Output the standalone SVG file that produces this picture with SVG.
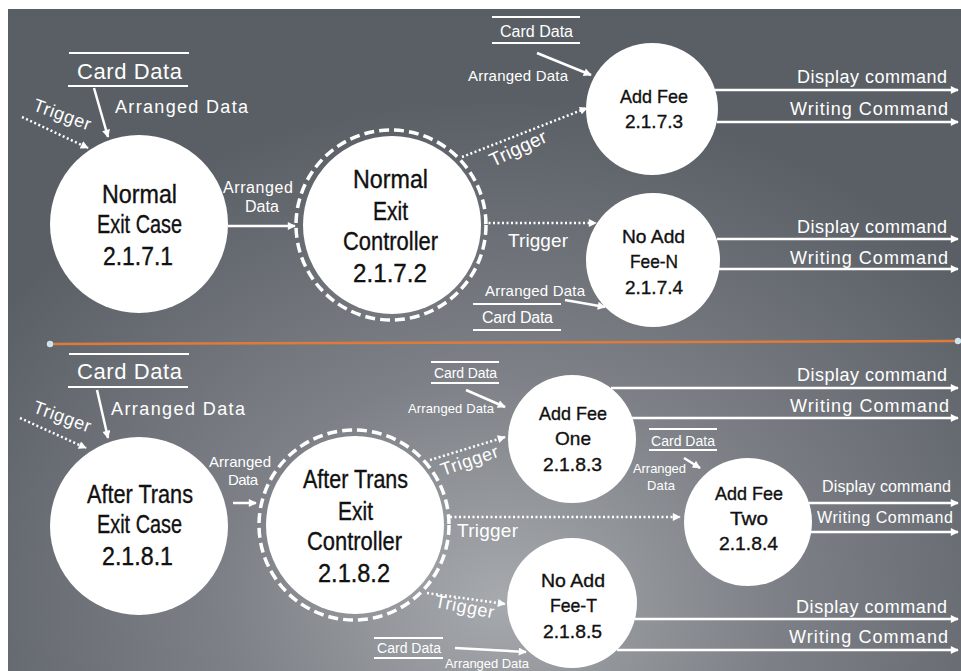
<svg xmlns="http://www.w3.org/2000/svg" width="961" height="671" viewBox="0 0 961 671">
<defs>
<radialGradient id="bg" cx="500" cy="600" r="560" gradientUnits="userSpaceOnUse" gradientTransform="translate(500 600) scale(1.1 0.9) translate(-500 -600)">
<stop offset="0" stop-color="#a6a9ad"/>
<stop offset="0.45" stop-color="#7d8187"/>
<stop offset="1" stop-color="#5a5f65"/>
</radialGradient>
<marker id="ah" viewBox="0 0 10 10" refX="9" refY="5" markerWidth="9" markerHeight="8" markerUnits="userSpaceOnUse" orient="auto">
<path d="M0 0 L10 5 L0 10 Z" fill="#fff"/>
</marker>
<style>
.nc{fill:#fff}
.ring{fill:none;stroke:#fff;stroke-width:3.5;stroke-dasharray:10 5}
.nt{font-family:'Liberation Sans',Arial,sans-serif;fill:#111;stroke:#111;stroke-width:0.35}
.big{font-size:25px}
.sm{font-size:19px}
.lb{font-family:'Liberation Sans',Arial,sans-serif;fill:#fff}
.flow{stroke:#fff;stroke-width:2.5;fill:none;marker-end:url(#ah)}
.dot{stroke:#fff;stroke-width:2.5;fill:none;stroke-dasharray:2 2.5;marker-end:url(#ah)}
.st{stroke:#fff;stroke-width:2.2}
</style>
</defs>
<rect x="0" y="0" width="961" height="671" fill="#fff"/>
<rect x="8" y="9" width="953" height="662" fill="url(#bg)"/>
<g id="divider">
<line x1="50" y1="344" x2="958" y2="341" stroke="#e07a3a" stroke-width="2.5"/>
<circle cx="50" cy="344" r="3.2" fill="#cfe4ee"/>
<circle cx="958" cy="341" r="3.2" fill="#cfe4ee"/>
</g>
<g id="connectors">
<line class="flow" x1="94" y1="88" x2="108" y2="137"/>
<line class="dot" x1="22" y1="117" x2="88" y2="148"/>
<line class="flow" x1="228" y1="226" x2="295" y2="226"/>
<line class="dot" x1="462" y1="157" x2="587" y2="108"/>
<line class="dot" x1="484" y1="223" x2="596" y2="223"/>
<line class="flow" x1="537" y1="53" x2="591" y2="75"/>
<line class="flow" x1="565" y1="300" x2="605" y2="307"/>
<line class="flow" x1="715" y1="90" x2="958" y2="90"/>
<line class="flow" x1="717" y1="122" x2="958" y2="122"/>
<line class="flow" x1="717" y1="239" x2="958" y2="239"/>
<line class="flow" x1="719" y1="269" x2="958" y2="269"/>
<line class="flow" x1="97" y1="390" x2="108" y2="438"/>
<line class="dot" x1="20" y1="418" x2="86" y2="448"/>
<line class="flow" x1="233" y1="503" x2="256" y2="503"/>
<line class="dot" x1="430" y1="460" x2="505" y2="437"/>
<line class="dot" x1="450" y1="517" x2="680" y2="517"/>
<line class="dot" x1="427" y1="593" x2="505" y2="604"/>
<line class="flow" x1="466" y1="390" x2="505" y2="407"/>
<line class="flow" x1="684" y1="458" x2="700" y2="468"/>
<line class="flow" x1="455" y1="648" x2="526" y2="652"/>
<line class="flow" x1="611" y1="388" x2="958" y2="388"/>
<line class="flow" x1="632" y1="418" x2="958" y2="418"/>
<line class="flow" x1="809" y1="503" x2="958" y2="503"/>
<line class="flow" x1="811" y1="532" x2="958" y2="532"/>
<line class="flow" x1="635" y1="619" x2="958" y2="619"/>
<line class="flow" x1="617" y1="650" x2="958" y2="650"/>
</g>
<g id="store-card-1">
<line class="st" x1="69" y1="53" x2="189" y2="53"/>
<line class="st" x1="68" y1="86" x2="188" y2="86"/>
<text class="lb" x="77" y="79" font-size="22" textLength="105" lengthAdjust="spacing">Card Data</text>
</g>
<g id="store-card-2">
<line class="st" x1="492" y1="17" x2="580" y2="17"/>
<line class="st" x1="492" y1="43" x2="580" y2="43"/>
<text class="lb" x="500" y="37" font-size="16" textLength="73" lengthAdjust="spacing">Card Data</text>
</g>
<g id="store-card-3">
<line class="st" x1="473" y1="304" x2="561" y2="304"/>
<line class="st" x1="473" y1="330" x2="561" y2="330"/>
<text class="lb" x="482" y="323" font-size="16" textLength="71" lengthAdjust="spacing">Card Data</text>
</g>
<g id="store-card-4">
<line class="st" x1="69" y1="354" x2="189" y2="354"/>
<line class="st" x1="68" y1="387" x2="188" y2="387"/>
<text class="lb" x="77" y="379" font-size="22" textLength="105" lengthAdjust="spacing">Card Data</text>
</g>
<g id="store-card-5">
<line class="st" x1="431" y1="362" x2="499" y2="362"/>
<line class="st" x1="431" y1="383" x2="499" y2="383"/>
<text class="lb" x="434" y="378" font-size="14" textLength="63" lengthAdjust="spacing">Card Data</text>
</g>
<g id="store-card-6">
<line class="st" x1="649" y1="429" x2="717" y2="429"/>
<line class="st" x1="649" y1="450" x2="717" y2="450"/>
<text class="lb" x="651" y="446" font-size="14" textLength="64" lengthAdjust="spacing">Card Data</text>
</g>
<g id="store-card-7">
<line class="st" x1="374" y1="638" x2="443" y2="638"/>
<line class="st" x1="374" y1="658" x2="443" y2="658"/>
<text class="lb" x="377" y="653" font-size="14" textLength="64" lengthAdjust="spacing">Card Data</text>
</g>
<g id="labels">
<text class="lb" x="115" y="113" font-size="18" textLength="133" lengthAdjust="spacing">Arranged Data</text>
<text class="lb" font-size="18" transform="translate(32 110) rotate(20)" textLength="60" lengthAdjust="spacing">Trigger</text>
<text class="lb" x="223" y="193" font-size="16" textLength="70" lengthAdjust="spacing">Arranged</text>
<text class="lb" x="245" y="212" font-size="16" textLength="34" lengthAdjust="spacing">Data</text>
<text class="lb" x="468" y="81" font-size="15" textLength="100" lengthAdjust="spacing">Arranged Data</text>
<text class="lb" font-size="19" transform="translate(493 167) rotate(-25)" textLength="61" lengthAdjust="spacing">Trigger</text>
<text class="lb" x="508" y="247" font-size="19" textLength="60" lengthAdjust="spacing">Trigger</text>
<text class="lb" x="485" y="296" font-size="15" textLength="100" lengthAdjust="spacing">Arranged Data</text>
<text class="lb" x="797" y="83" font-size="18" textLength="150" lengthAdjust="spacing">Display command</text>
<text class="lb" x="790" y="115" font-size="18" textLength="158" lengthAdjust="spacing">Writing Command</text>
<text class="lb" x="797" y="233" font-size="18" textLength="150" lengthAdjust="spacing">Display command</text>
<text class="lb" x="790" y="264" font-size="18" textLength="158" lengthAdjust="spacing">Writing Command</text>
<text class="lb" x="111" y="415" font-size="18" textLength="134" lengthAdjust="spacing">Arranged Data</text>
<text class="lb" font-size="18" transform="translate(32 412) rotate(20)" textLength="60" lengthAdjust="spacing">Trigger</text>
<text class="lb" x="209" y="467" font-size="15" textLength="62" lengthAdjust="spacing">Arranged</text>
<text class="lb" x="228" y="485" font-size="15" textLength="30" lengthAdjust="spacing">Data</text>
<text class="lb" x="408" y="413" font-size="13" textLength="86" lengthAdjust="spacing">Arranged Data</text>
<text class="lb" font-size="18" transform="translate(443 476) rotate(-19)" textLength="60" lengthAdjust="spacing">Trigger</text>
<text class="lb" x="457" y="537" font-size="19" textLength="61" lengthAdjust="spacing">Trigger</text>
<text class="lb" font-size="18" transform="translate(434 607) rotate(11)" textLength="60" lengthAdjust="spacing">Trigger</text>
<text class="lb" x="633" y="473" font-size="13" textLength="53" lengthAdjust="spacing">Arranged</text>
<text class="lb" x="647" y="490" font-size="13" textLength="28" lengthAdjust="spacing">Data</text>
<text class="lb" x="445" y="668" font-size="13" textLength="84" lengthAdjust="spacing">Arranged Data</text>
<text class="lb" x="797" y="381" font-size="18" textLength="150" lengthAdjust="spacing">Display command</text>
<text class="lb" x="790" y="412" font-size="18" textLength="159" lengthAdjust="spacing">Writing Command</text>
<text class="lb" x="822" y="492" font-size="16" textLength="129" lengthAdjust="spacing">Display command</text>
<text class="lb" x="817" y="523" font-size="16" textLength="136" lengthAdjust="spacing">Writing Command</text>
<text class="lb" x="796" y="613" font-size="18" textLength="151" lengthAdjust="spacing">Display command</text>
<text class="lb" x="789" y="643" font-size="18" textLength="159" lengthAdjust="spacing">Writing Command</text>
</g>
<g id="node-2171">
<circle class="nc" cx="139" cy="224" r="89"/>
<text class="nt big" x="102" y="203" textLength="75" lengthAdjust="spacingAndGlyphs">Normal</text>
<text class="nt big" x="97" y="233" textLength="85" lengthAdjust="spacingAndGlyphs">Exit Case</text>
<text class="nt big" x="103" y="265" textLength="70" lengthAdjust="spacingAndGlyphs">2.1.7.1</text>
</g>
<g id="node-2172">
<circle class="ring" cx="391" cy="225" r="95"/>
<circle class="nc" cx="392" cy="225" r="89"/>
<text class="nt big" x="353" y="188" textLength="75" lengthAdjust="spacingAndGlyphs">Normal</text>
<text class="nt big" x="373" y="220" textLength="35" lengthAdjust="spacingAndGlyphs">Exit</text>
<text class="nt big" x="343" y="250" textLength="95" lengthAdjust="spacingAndGlyphs">Controller</text>
<text class="nt big" x="353" y="282" textLength="74" lengthAdjust="spacingAndGlyphs">2.1.7.2</text>
</g>
<g id="node-2173">
<circle class="nc" cx="652" cy="109" r="66"/>
<text class="nt sm" x="620" y="103" textLength="68" lengthAdjust="spacingAndGlyphs">Add Fee</text>
<text class="nt sm" x="625" y="128" textLength="58" lengthAdjust="spacingAndGlyphs">2.1.7.3</text>
</g>
<g id="node-2174">
<circle class="nc" cx="653" cy="260" r="67"/>
<text class="nt sm" x="622" y="243" textLength="63" lengthAdjust="spacingAndGlyphs">No Add</text>
<text class="nt sm" x="630" y="268" textLength="48" lengthAdjust="spacingAndGlyphs">Fee-N</text>
<text class="nt sm" x="625" y="294" textLength="58" lengthAdjust="spacingAndGlyphs">2.1.7.4</text>
</g>
<g id="node-2181">
<circle class="nc" cx="139" cy="526" r="89"/>
<text class="nt big" x="87" y="503" textLength="106" lengthAdjust="spacingAndGlyphs">After Trans</text>
<text class="nt big" x="97" y="533" textLength="85" lengthAdjust="spacingAndGlyphs">Exit Case</text>
<text class="nt big" x="102" y="565" textLength="71" lengthAdjust="spacingAndGlyphs">2.1.8.1</text>
</g>
<g id="node-2182">
<circle class="ring" cx="354" cy="525" r="95"/>
<circle class="nc" cx="355" cy="525" r="89"/>
<text class="nt big" x="303" y="488" textLength="105" lengthAdjust="spacingAndGlyphs">After Trans</text>
<text class="nt big" x="338" y="520" textLength="35" lengthAdjust="spacingAndGlyphs">Exit</text>
<text class="nt big" x="307" y="550" textLength="95" lengthAdjust="spacingAndGlyphs">Controller</text>
<text class="nt big" x="318" y="582" textLength="72" lengthAdjust="spacingAndGlyphs">2.1.8.2</text>
</g>
<g id="node-2183">
<circle class="nc" cx="572" cy="439" r="64"/>
<text class="nt sm" x="539" y="420" textLength="68" lengthAdjust="spacingAndGlyphs">Add Fee</text>
<text class="nt sm" x="555" y="445" textLength="36" lengthAdjust="spacingAndGlyphs">One</text>
<text class="nt sm" x="543" y="471" textLength="59" lengthAdjust="spacingAndGlyphs">2.1.8.3</text>
</g>
<g id="node-2184">
<circle class="nc" cx="748" cy="522" r="64"/>
<text class="nt sm" x="715" y="500" textLength="68" lengthAdjust="spacingAndGlyphs">Add Fee</text>
<text class="nt sm" x="730" y="525" textLength="38" lengthAdjust="spacingAndGlyphs">Two</text>
<text class="nt sm" x="719" y="550" textLength="59" lengthAdjust="spacingAndGlyphs">2.1.8.4</text>
</g>
<g id="node-2185">
<circle class="nc" cx="572" cy="603" r="65"/>
<text class="nt sm" x="541" y="587" textLength="64" lengthAdjust="spacingAndGlyphs">No Add</text>
<text class="nt sm" x="550" y="612" textLength="47" lengthAdjust="spacingAndGlyphs">Fee-T</text>
<text class="nt sm" x="543" y="638" textLength="59" lengthAdjust="spacingAndGlyphs">2.1.8.5</text>
</g>
</svg>
